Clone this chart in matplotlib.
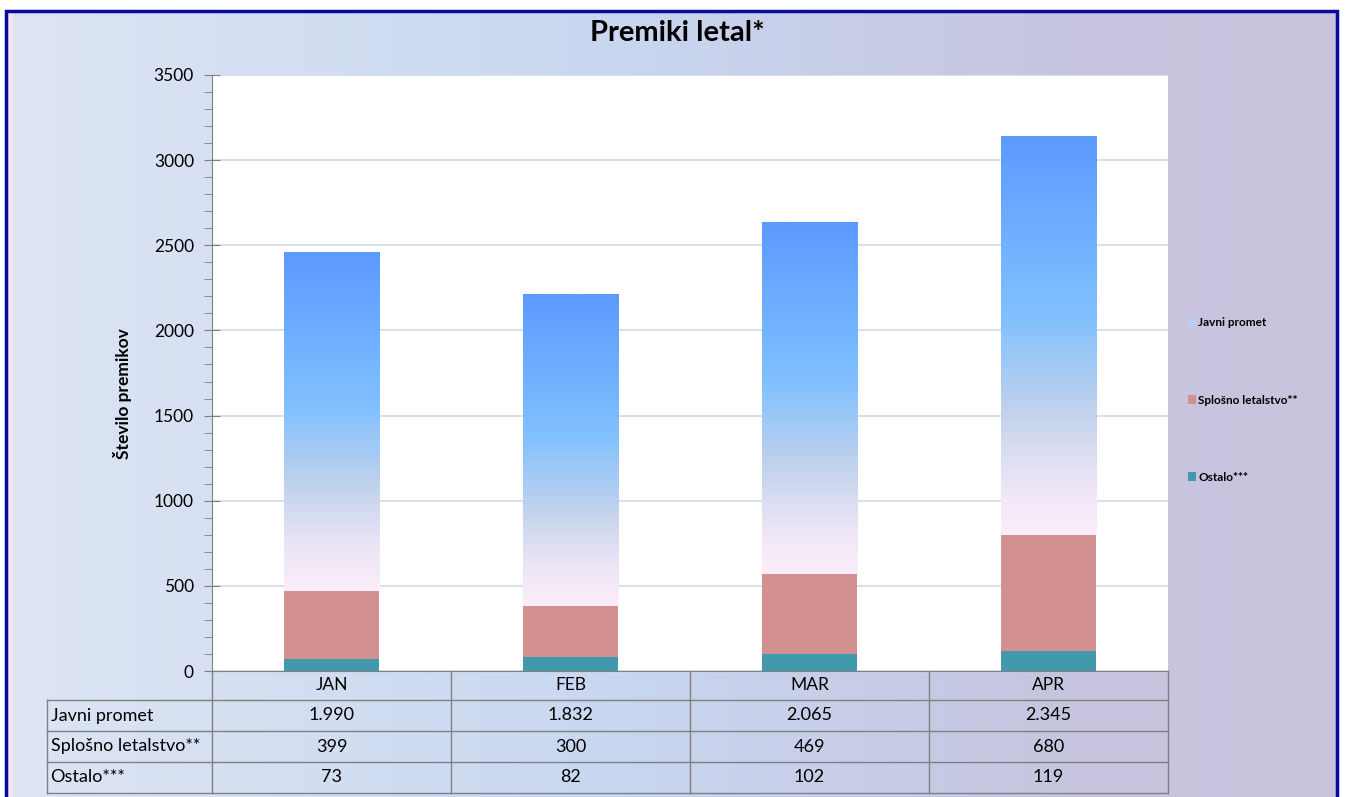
import numpy as np
import matplotlib.pyplot as plt
from matplotlib.colors import LinearSegmentedColormap
from matplotlib.patches import Rectangle, Patch

plt.rcParams['font.family'] = ['Lato', 'DejaVu Sans']

months = ['JAN', 'FEB', 'MAR', 'APR']
javni = [1990, 1832, 2065, 2345]
splosno = [399, 300, 469, 680]
ostalo = [73, 82, 102, 119]
series_names = ['Javni promet', 'Splošno letalstvo**', 'Ostalo***']

W, H = 1348, 797
fig = plt.figure(figsize=(W / 100, H / 100), dpi=100)
fig.patch.set_facecolor('white')

# background gradient inside the frame
bg = fig.add_axes([7 / W, 0, (1336 - 7) / W, 1 - 12 / H], zorder=-10)
bg_cmap = LinearSegmentedColormap.from_list(
    'bg', [(0, '#dde5f4'), (0.45, '#c9d7f0'), (0.8, '#c6c5e0'), (1, '#cbc3dd')])
bg.imshow(np.linspace(0, 1, 256)[None, :], aspect='auto', cmap=bg_cmap,
          extent=[0, 1, 0, 1])
bg.axvline(0.003, color='#f6e4ec', lw=3)
bg.set_axis_off()

# dark blue frame
fig.patches.append(Rectangle((6 / W, -0.01), (1337 - 6) / W, 1 - 11 / H + 0.01,
                             transform=fig.transFigure, fill=False,
                             edgecolor='#0a0a9c', lw=2.5, zorder=20))

ax = fig.add_axes([212 / W, 1 - 671 / H, (1168 - 212) / W, (671 - 75) / H])
ax.set_facecolor('white')

x = np.arange(len(months))
bw = 0.4
b_ost = ax.bar(x, ostalo, bw, color='#4298ad', zorder=3)
b_spl = ax.bar(x, splosno, bw, bottom=ostalo, color='#d29190', zorder=3)
base = np.array(ostalo) + np.array(splosno)
b_jav = ax.bar(x, javni, bw, bottom=base, color='none', zorder=3)

jav_cmap = LinearSegmentedColormap.from_list(
    'jav', [(0, '#fcedfb'), (0.12, '#eee6f6'), (0.3, '#c3d3ec'),
            (0.55, '#80c0ff'), (1, '#5c9afe')])
grad = np.linspace(0, 1, 256)[:, None]
for bar in b_jav:
    bx, by = bar.get_x(), bar.get_y()
    im = ax.imshow(grad, origin='lower', aspect='auto', cmap=jav_cmap,
                   extent=[bx, bx + bar.get_width(), by, by + bar.get_height()],
                   zorder=3)
    im.set_clip_path(bar)

ax.set_xlim(-0.5, 3.5)
ax.set_ylim(0, 3500)
ax.set_yticks(np.arange(0, 3501, 500))
ax.set_yticks(np.arange(0, 3501, 100), minor=True)
ax.tick_params(axis='y', which='major', direction='inout', length=12,
               color='#808080', labelsize=12.5, pad=7)
ax.tick_params(axis='y', which='minor', direction='out', length=6,
               color='#808080')
ax.set_xticks([])
ax.grid(axis='y', color='#d3deec', lw=1.3, zorder=1)
for s in ['top', 'right']:
    ax.spines[s].set_visible(False)
for s in ['left', 'bottom']:
    ax.spines[s].set_color('#808080')
ax.set_ylabel('Število premikov', fontsize=12.5, fontweight='bold')
ax.yaxis.set_label_coords(-(212 - 132) / 956, 0.466)

# data table under the plot
tr = ax.get_xaxis_transform()
px = 1 / 596
row_tops = [0, -29 * px, -60 * px, -91 * px, -122 * px]
left_lab = -0.5 - 165 / 239
lc = '#808080'
for yy in row_tops[1:]:
    ax.plot([left_lab, 3.5], [yy, yy], color=lc, lw=1, transform=tr, clip_on=False)
for xx in np.arange(-0.5, 3.6, 1):
    ax.plot([xx, xx], [0, row_tops[-1]], color=lc, lw=1, transform=tr, clip_on=False)
ax.plot([left_lab, left_lab], [row_tops[1], row_tops[-1]], color=lc, lw=1,
        transform=tr, clip_on=False)

def fmt(v):
    return f'{v:,}'.replace(',', '.')

for i, m in enumerate(months):
    ax.text(i, (row_tops[0] + row_tops[1]) / 2, m, transform=tr, ha='center',
            va='center', fontsize=12.5)
rows = [javni, splosno, ostalo]
for r, (name, vals) in enumerate(zip(series_names, rows)):
    yc = (row_tops[r + 1] + row_tops[r + 2]) / 2
    ax.text(left_lab + 0.015, yc, name, transform=tr, ha='left', va='center',
            fontsize=13)
    for i, v in enumerate(vals):
        ax.text(i, yc, fmt(v), transform=tr, ha='center', va='center',
                fontsize=13)

fig.text(677 / W, 1 - 33 / H, 'Premiki letal*', ha='center', va='center',
         fontsize=21, fontweight='bold')

handles = [Patch(facecolor='#b5d0f6', edgecolor='none'),
           Patch(facecolor='#d29190', edgecolor='none'),
           Patch(facecolor='#4298ad', edgecolor='none')]
fig.legend(handles, series_names, loc='center left',
           bbox_to_anchor=(1177 / W, 1 - 400 / H), frameon=False,
           prop={'size': 8.5, 'weight': 'bold'},
           handlelength=0.7, handleheight=0.7, handletextpad=0.2,
           labelspacing=5.6)

fig.savefig('out.png', dpi=100)
